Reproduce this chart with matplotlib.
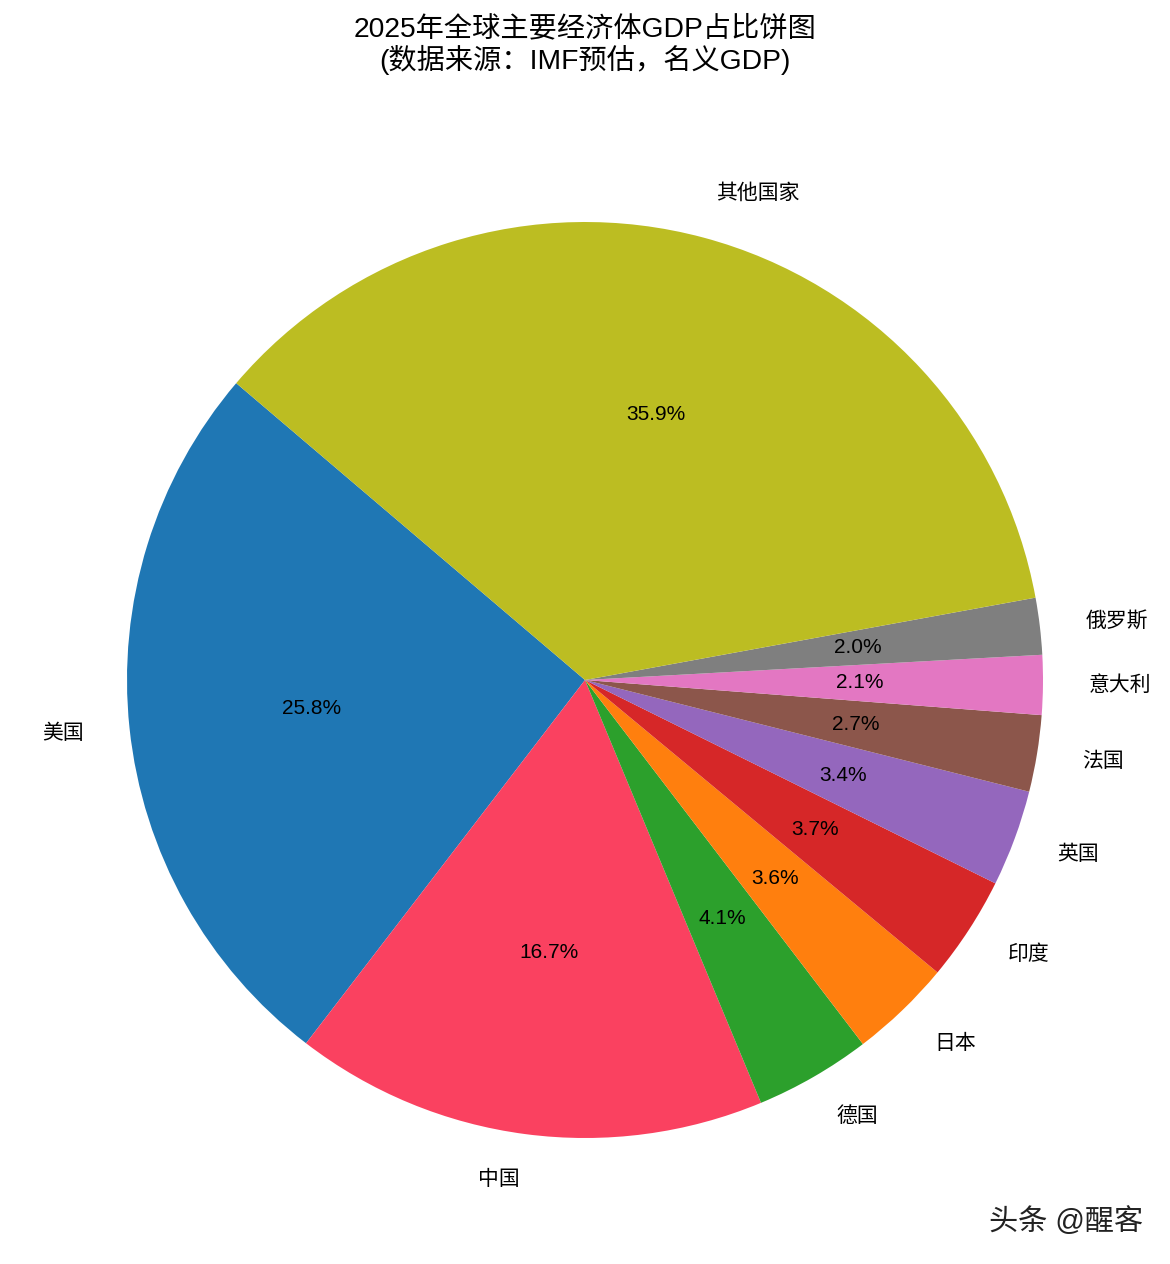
import matplotlib
matplotlib.use('Agg')
import matplotlib.pyplot as plt

plt.rcParams['font.family'] = ['Liberation Sans', 'Noto Sans CJK SC', 'DejaVu Sans']

countries = ['美国', '中国', '德国', '日本', '印度', '英国', '法国', '意大利', '俄罗斯', '其他国家']
shares = [25.8, 16.7, 4.1, 3.6, 3.7, 3.4, 2.7, 2.1, 2.0, 35.9]
colors = ['#1f77b4', '#fa4160', '#2ca02c', '#ff7f0e', '#d62728',
          '#9467bd', '#8c564b', '#e377c2', '#7f7f7f', '#bcbd22']

W, H = 1170, 1264
fig = plt.figure(figsize=(W / 100, H / 100), dpi=100)

# pie centre (585, 680) px, radius ~458 px
r_px = 458
lim = 1.25
w = 2 * r_px * lim / W
h = 2 * r_px * lim / H
cx = 585 / W
cy = (H - 680) / H
ax = fig.add_axes([cx - w / 2, cy - h / 2, w, h])

wedges, texts, autotexts = ax.pie(shares, labels=countries, colors=colors,
                                  autopct='%1.1f%%', startangle=139.6,
                                  pctdistance=0.6, labeldistance=1.1,
                                  textprops={'fontsize': 15})
for t in autotexts:
    t.set_fontsize(15)
ax.set_xlim(-lim, lim)
ax.set_ylim(-lim, lim)
ax.set_aspect('equal')
ax.axis('off')

fig.text(0.5, 1 - 45 / H, '2025年全球主要经济体GDP占比饼图\n(数据来源：IMF预估，名义GDP)',
         ha='center', va='center', fontsize=20.3, linespacing=1.1)

fig.text(1066 / W, 1 - 1222 / H, '头条 @醒客', ha='center', va='center',
         fontsize=21, color='#222222', fontweight='medium')

fig.savefig('out.png', dpi=100, facecolor='white')
